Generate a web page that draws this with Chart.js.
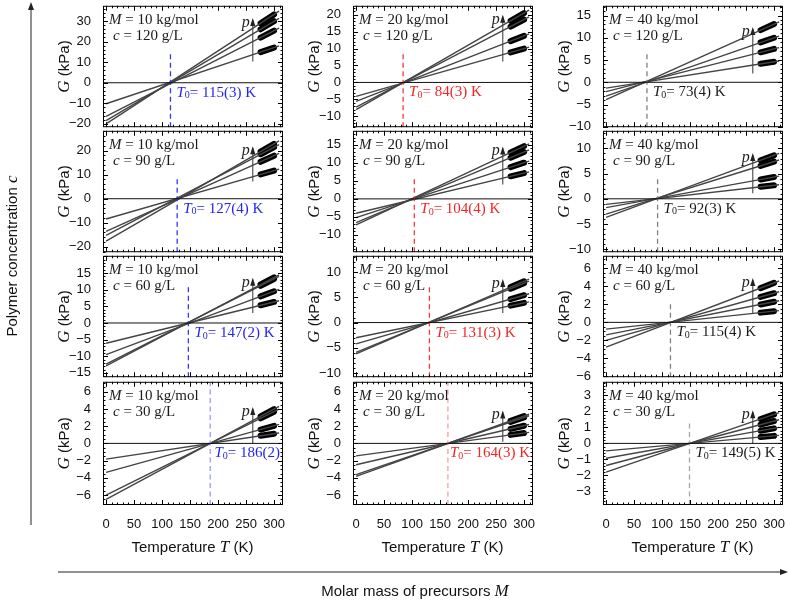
<!DOCTYPE html>
<html>
<head>
<meta charset="utf-8">
<script src="https://cdn.jsdelivr.net/npm/chart.js@4.4.1/dist/chart.umd.min.js"></script>
<style>
  body { margin: 0; background: #fff; }
  #page { position: relative; width: 790px; height: 606px; overflow: hidden; font-family: "Liberation Sans", Arial, sans-serif; color: #111; }
  #page canvas { position: absolute; }
  .lbl { position: absolute; font-size: 15px; white-space: nowrap; transform: translate(-50%, -50%); }
  .lbl i { font-family: "Liberation Serif", serif; font-size: 17px; }
  .rot { transform: translate(-50%, -50%) rotate(-90deg); }
  svg { position: absolute; left: 0; top: 0; }
</style>
</head>
<body>
<div id="page">
  <svg width="790" height="606">
    <line x1="31" y1="525" x2="31" y2="8" stroke="#222" stroke-width="1"/>
    <polygon points="31,2 28,10 34,10" fill="#222"/>
    <line x1="58" y1="572" x2="781" y2="572" stroke="#222" stroke-width="1"/>
    <polygon points="788,572 780,569 780,575" fill="#222"/>
  </svg>
</div>
<script>
// columns: molar mass of precursors, rows: polymer concentration
const masses = [10, 20, 40];
const concentrations = [120, 90, 60, 30];

const t0Values = [
  [115, 84, 73],
  [127, 104, 92],
  [147, 131, 115],
  [186, 164, 149]
];
const t0Labels = [
  ['115(3) K', '84(3) K', '73(4) K'],
  ['127(4) K', '104(4) K', '92(3) K'],
  ['147(2) K', '131(3) K', '115(4) K'],
  ['186(2)', '164(3) K', '149(5) K']
];

// fitted lines: G (kPa) at T = 0 and T = 309 K
const fitT = [0, 309];
const fitStart = [
  [[-10.2, -16.3, -18.4, -20.0], [-4.1, -5.6, -7.3, -8.0], [-1.3, -2.1, -3.1, -3.9]],
  [[-8.4, -13.6, -15.2, -17.6], [-4.0, -5.2, -6.6, -7.2], [-1.1, -1.75, -3.05, -3.7]],
  [[-6.1, -9.5, -12.4, -12.9], [-3.0, -4.2, -5.9, -6.2], [-0.75, -1.4, -2.0, -2.75]],
  [[-1.83, -3.36, -6.0, -6.5], [-1.45, -2.48, -3.63, -3.82], [-0.47, -0.93, -1.38, -1.79]]
];
const fitEnd = [
  [[17.9, 26.5, 31.3, 34.8], [10.4, 14.3, 19.3, 21.3], [4.8, 7.8, 10.4, 13.6]],
  [[12.3, 18.8, 22.5, 24.0], [7.5, 10.5, 13.6, 15.3], [2.8, 4.5, 7.7, 9.0]],
  [[6.7, 10.1, 14.0, 14.5], [4.1, 5.7, 8.2, 8.6], [1.3, 2.4, 3.4, 4.6]],
  [[1.21, 2.2, 3.97, 4.3], [1.28, 2.19, 3.21, 3.38], [0.5, 1.0, 1.48, 1.92]]
];

// measured data clusters: G at T = 276 K and T = 300 K
const dataT = [276, 300];
const dataStart = [
  [[14.9, 21.9, 26.0, 28.9], [8.85, 12.17, 16.45, 18.16], [4.15, 6.74, 8.96, 11.73]],
  [[10.09, 15.33, 18.47, 19.55], [6.27, 8.82, 11.44, 12.89], [2.38, 3.83, 6.55, 7.64]],
  [[5.33, 8.0, 11.18, 11.57], [3.34, 4.64, 6.69, 7.02], [1.08, 1.99, 2.82, 3.81]],
  [[0.88, 1.61, 2.9, 3.14], [0.99, 1.69, 2.48, 2.61], [0.4, 0.79, 1.17, 1.52]]
];
const dataEnd = [
  [[17.1, 25.3, 29.9, 33.2], [9.98, 13.72, 18.53, 20.45], [4.62, 7.51, 10.01, 13.09]],
  [[11.7, 17.86, 21.41, 22.79], [7.17, 10.04, 13.01, 14.65], [2.69, 4.32, 7.39, 8.63]],
  [[6.33, 9.53, 13.23, 13.71], [3.89, 5.41, 7.79, 8.17], [1.24, 2.29, 3.24, 4.39]],
  [[1.12, 2.04, 3.68, 3.99], [1.2, 2.05, 3.01, 3.17], [0.47, 0.94, 1.4, 1.81]]
];

const xRange = [-5.5, 316];
const xTicks = [0, 50, 100, 150, 200, 250, 300];
const yRanges = [
  [[-21.6, 37.4], [-13.2, 22.6], [-10.1, 17.2]],
  [[-22.2, 28.2], [-14.8, 18.9], [-10.6, 13.5]],
  [[-16.3, 20.2], [-10.8, 13.2], [-6.1, 7.4]],
  [[-7.15, 7.15], [-7.15, 7.15], [-3.85, 3.85]]
];
const yTicks = [
  [[-20, -10, 0, 10, 20, 30], [-10, -5, 0, 5, 10, 15, 20], [-10, -5, 0, 5, 10, 15]],
  [[-20, -10, 0, 10, 20], [-10, -5, 0, 5, 10, 15], [-10, -5, 0, 5, 10]],
  [[-15, -10, -5, 0, 5, 10, 15], [-10, -5, 0, 5, 10], [-6, -4, -2, 0, 2, 4, 6]],
  [[-6, -4, -2, 0, 2, 4, 6], [-6, -4, -2, 0, 2, 4, 6], [-3, -2, -1, 0, 1, 2, 3]]
];
// top of the dashed T0 marker (G value)
const dashTop = [
  [15, 8.5, 6.5],
  [8.4, 5.6, 4.4],
  [11, 7.2, 2.0],
  [7.15, 7.15, 1.45]
];
// pressure arrow: T position and G range
const arrowT = 262;
const arrowRange = [
  [[10.3, 30.5], [6.2, 19.4], [2.0, 12.0]],
  [[7.2, 21.0], [4.0, 14.0], [1.1, 8.7]],
  [[3.0, 13.0], [1.9, 8.2], [1.0, 4.7]],
  [[0.0, 4.0], [0.2, 3.6], [0.0, 1.95]]
];

const labelColors = ['#2424f2', '#f22424', '#1a1a1a'];
const dashColors = ['#3535f5', '#f53838', '#808080'];
const dashColorsLight = ['#9a9aff', '#ff9a9a', '#a6a6a6'];

const colLeft = [41, 291, 541];
const rowTop = [4, 129, 254, 380];
const SERIF = '"Liberation Serif", "Times New Roman", serif';
const SANS = '"Liberation Sans", Arial, sans-serif';

function minus(v) {
  return v < 0 ? '\u2212' + Math.abs(v) : String(v);
}

function drawParts(ctx, parts, x, y) {
  for (const p of parts) {
    ctx.font = p[1];
    ctx.fillText(p[0], x, y + (p[2] || 0));
    x += ctx.measureText(p[0]).width;
  }
  return x;
}

function partsWidth(ctx, parts) {
  let w = 0;
  for (const p of parts) { ctx.font = p[1]; w += ctx.measureText(p[0]).width; }
  return w;
}

function makeDecor(r, c) {
  return {
    id: 'decor',
    afterDatasetsDraw(chart) {
      const ctx = chart.ctx;
      const a = chart.chartArea;
      const xs = chart.scales.x, ys = chart.scales.y;
      ctx.save();
      // frame with inward ticks
      ctx.strokeStyle = '#000';
      ctx.lineWidth = 1;
      ctx.strokeRect(a.left + 0.5, a.top + 0.5, a.width - 1, a.height - 1);
      ctx.beginPath();
      for (let v = 0; v <= 310; v += 10) {
        const px = Math.round(xs.getPixelForValue(v)) + 0.5;
        const len = v % 50 === 0 ? 5 : 2.5;
        ctx.moveTo(px, a.bottom); ctx.lineTo(px, a.bottom - len);
        ctx.moveTo(px, a.top); ctx.lineTo(px, a.top + len);
      }
      const tk = yTicks[r][c];
      const major = tk[1] - tk[0];
      const minor = major === 2 ? 0.5 : major / 5;
      const lo = yRanges[r][c][0], hi = yRanges[r][c][1];
      for (let k = Math.ceil(lo / minor); k * minor <= hi; k++) {
        const v = k * minor;
        const py = Math.round(ys.getPixelForValue(v)) + 0.5;
        const isMajor = Math.abs(v / major - Math.round(v / major)) < 1e-6;
        const len = isMajor ? 5 : 2.5;
        ctx.moveTo(a.left, py); ctx.lineTo(a.left + len, py);
        ctx.moveTo(a.right, py); ctx.lineTo(a.right - len, py);
      }
      ctx.stroke();

      // pressure arrow head and label
      const ax = xs.getPixelForValue(arrowT);
      const ay = ys.getPixelForValue(arrowRange[r][c][1]);
      ctx.fillStyle = '#222';
      ctx.beginPath();
      ctx.moveTo(ax, ay - 2);
      ctx.lineTo(ax - 2.6, ay + 6);
      ctx.lineTo(ax + 2.6, ay + 6);
      ctx.closePath();
      ctx.fill();
      ctx.textBaseline = 'alphabetic';
      ctx.textAlign = 'right';
      ctx.font = 'italic 16px ' + SERIF;
      ctx.fillText('p', ax - 3, ay + 7);

      // panel parameters
      ctx.textAlign = 'left';
      ctx.textBaseline = 'middle';
      ctx.fillStyle = '#1a1a1a';
      drawParts(ctx, [['M', 'italic 15px ' + SERIF], [' = ' + masses[c] + ' kg/mol', '15px ' + SERIF]], a.left + 6, a.top + 14);
      drawParts(ctx, [['c', 'italic 15px ' + SERIF], [' = ' + concentrations[r] + ' g/L', '15px ' + SERIF]], a.left + 10, a.top + 30);

      // T0 label, kept inside the frame
      ctx.fillStyle = labelColors[c];
      const t0Parts = [
        ['T', 'italic 15px ' + SERIF],
        ['0', '10px ' + SERIF, 3],
        ['= ' + t0Labels[r][c], '15px ' + SERIF]
      ];
      let tx = xs.getPixelForValue(t0Values[r][c]) + 6;
      const tw = partsWidth(ctx, t0Parts);
      if (tx + tw > a.right - 3) tx = a.right - 3 - tw;
      const ty = ys.getPixelForValue(0) + 10;
      drawParts(ctx, t0Parts, tx, ty);
      ctx.restore();
    },
    afterDraw(chart) {
      const ctx = chart.ctx;
      const a = chart.chartArea;
      ctx.save();
      ctx.translate(a.left - 38, (a.top + a.bottom) / 2);
      ctx.rotate(-Math.PI / 2);
      ctx.fillStyle = '#111';
      ctx.textBaseline = 'middle';
      ctx.textAlign = 'left';
      const parts = [['G', 'italic 17px ' + SERIF], [' (kPa)', '15px ' + SANS]];
      drawParts(ctx, parts, -partsWidth(ctx, parts) / 2, 0);
      ctx.restore();
    }
  };
}

const page = document.getElementById('page');
const svg = page.querySelector('svg');

for (let r = 0; r < 4; r++) {
  for (let c = 0; c < 3; c++) {
    const bottomRow = r === 3;
    const xAxisH = bottomRow ? 30 : 0;
    const h = 10 + 125 + xAxisH + 10;
    const canvas = document.createElement('canvas');
    canvas.width = 250;
    canvas.height = h;
    canvas.style.left = colLeft[c] + 'px';
    canvas.style.top = (rowTop[r] - 10) + 'px';
    canvas.style.width = '250px';
    canvas.style.height = h + 'px';
    page.insertBefore(canvas, svg);

    const t0 = t0Values[r][c];
    const datasets = [];
    datasets.push({
      data: [{ x: xRange[0], y: 0 }, { x: xRange[1], y: 0 }],
      borderColor: '#111', borderWidth: 1
    });
    datasets.push({
      data: [{ x: t0, y: yRanges[r][c][0] }, { x: t0, y: dashTop[r][c] }],
      borderColor: bottomRow ? dashColorsLight[c] : dashColors[c],
      borderWidth: 1.3, borderDash: [5, 3.5]
    });
    for (let i = 0; i < 4; i++) {
      datasets.push({
        data: [{ x: fitT[0], y: fitStart[r][c][i] }, { x: fitT[1], y: fitEnd[r][c][i] }],
        borderColor: '#444', borderWidth: 1.4
      });
    }
    for (let i = 0; i < 4; i++) {
      datasets.push({
        data: [{ x: dataT[0], y: dataStart[r][c][i] }, { x: dataT[1], y: dataEnd[r][c][i] }],
        borderColor: '#000', borderWidth: 6, borderCapStyle: 'round'
      });
    }
    datasets.push({
      data: [{ x: arrowT, y: arrowRange[r][c][0] }, { x: arrowT, y: arrowRange[r][c][1] }],
      borderColor: '#555', borderWidth: 1.2
    });
    datasets.forEach(d => { d.showLine = true; d.pointRadius = 0; d.pointHoverRadius = 0; });

    new Chart(canvas, {
      type: 'scatter',
      data: { datasets: datasets },
      options: {
        responsive: false,
        animation: false,
        events: [],
        layout: { padding: { left: 0, right: 8, top: 10, bottom: 10 } },
        plugins: { legend: { display: false }, tooltip: { enabled: false } },
        scales: {
          x: {
            type: 'linear', min: xRange[0], max: xRange[1],
            grid: { display: false }, border: { display: false },
            afterBuildTicks: (s) => { s.ticks = xTicks.map(v => ({ value: v })); },
            afterFit: (s) => { s.height = xAxisH; },
            ticks: {
              display: bottomRow, autoSkip: false, maxRotation: 0, padding: 4,
              color: '#111', font: { family: 'Liberation Sans', size: 13 }
            }
          },
          y: {
            type: 'linear', min: yRanges[r][c][0], max: yRanges[r][c][1],
            grid: { display: false }, border: { display: false },
            afterBuildTicks: (s) => { s.ticks = yTicks[r][c].map(v => ({ value: v })); },
            afterFit: (s) => { s.width = 62; },
            ticks: {
              autoSkip: false, padding: 4, color: '#111',
              font: { family: 'Liberation Sans', size: 13 },
              callback: (v) => minus(v)
            }
          }
        }
      },
      plugins: [makeDecor(r, c)]
    });
  }
}

// shared axis captions
const captions = [
  ['Temperature <i>T</i> (K)', 192.5, 547, ''],
  ['Temperature <i>T</i> (K)', 442.5, 547, ''],
  ['Temperature <i>T</i> (K)', 692.5, 547, ''],
  ['Molar mass of precursors <i>M</i>', 415, 591, ''],
  ['Polymer concentration <i>c</i>', 12, 256, 'rot']
];
captions.forEach(([html, x, y, cls]) => {
  const d = document.createElement('div');
  d.className = 'lbl ' + cls;
  d.innerHTML = html;
  d.style.left = x + 'px';
  d.style.top = y + 'px';
  page.appendChild(d);
});
</script>
</body>
</html>
